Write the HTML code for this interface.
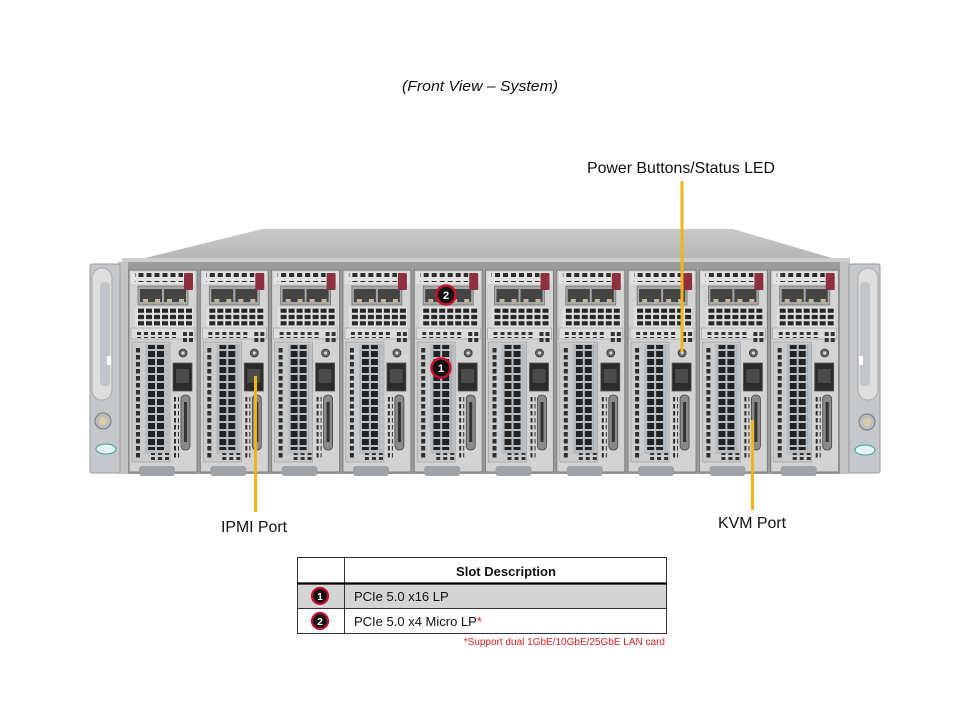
<!DOCTYPE html>
<html><head><meta charset="utf-8">
<style>
html,body{margin:0;padding:0;background:#fff;}
body{width:960px;height:720px;overflow:hidden;}
svg{display:block;font-family:"Liberation Sans",Arial,sans-serif;}
</style></head>
<body>
<svg width="960" height="720" viewBox="0 0 960 720" xmlns="http://www.w3.org/2000/svg">
<defs>
  <pattern id="v1" width="8" height="9" patternUnits="userSpaceOnUse"><rect x="1.5" y="2" width="5" height="5" fill="#2e2e2e"/></pattern>
  <pattern id="v2" width="8" height="6.3" patternUnits="userSpaceOnUse"><rect x="1" y="0.8" width="6" height="4.2" fill="#262626"/></pattern>
  <pattern id="v3" width="7" height="6" patternUnits="userSpaceOnUse"><rect x="1" y="1" width="4" height="4" fill="#333"/></pattern>
  <pattern id="v4" width="6" height="7" patternUnits="userSpaceOnUse"><rect x="1" y="1" width="4" height="4.5" fill="#2f2f2f"/></pattern>
  <pattern id="v5" width="9" height="8" patternUnits="userSpaceOnUse"><rect x="1" y="1" width="7" height="6" fill="#232323"/></pattern>
  <linearGradient id="topg" x1="0" y1="0" x2="0" y2="1">
    <stop offset="0" stop-color="#c9c9c9"/><stop offset="1" stop-color="#b3b3b3"/>
  </linearGradient>
  <g id="mod">
    <rect x="0" y="0" width="68" height="202" fill="#d3d3d3" stroke="#7d7d7d" stroke-width="1"/>
    <rect x="2" y="2" width="64" height="12" fill="#e2e2e2"/>
    <rect x="6" y="3" width="48" height="9" fill="url(#v1)"/>
    <rect x="9" y="16" width="50" height="19" fill="#a8a8a8" stroke="#777" stroke-width="0.8"/>
    <rect x="11" y="19" width="22" height="13" fill="#444"/>
    <rect x="35" y="19" width="22" height="13" fill="#444"/>
    <rect x="14" y="29" width="5" height="3" fill="#c7b98f"/>
    <rect x="26" y="29" width="5" height="3" fill="#c7b98f"/>
    <rect x="38" y="29" width="5" height="3" fill="#c7b98f"/>
    <rect x="50" y="29" width="5" height="3" fill="#c7b98f"/>
    <rect x="55" y="3" width="9" height="17" rx="1" fill="#8e3040"/>
    <rect x="6" y="37" width="58" height="21" fill="#e0e0e0"/>
    <rect x="8" y="38" width="56" height="19" fill="url(#v2)"/>
    <rect x="2" y="58" width="64" height="11" fill="#dcdcdc" stroke="#9a9a9a" stroke-width="0.6"/>
    <rect x="8" y="62" width="40" height="6" fill="url(#v3)"/>
    <rect x="54" y="62" width="4" height="4" fill="#333"/><rect x="60" y="62" width="4" height="4" fill="#333"/>
    <rect x="54" y="68" width="4" height="4" fill="#333"/><rect x="60" y="68" width="4" height="4" fill="#333"/>
    <rect x="3" y="72" width="38" height="120" fill="#c9cbcd" stroke="#999" stroke-width="0.6"/>
    <rect x="6" y="76" width="6" height="112" fill="url(#v4)"/>
    <rect x="16" y="74" width="24" height="110" fill="#b8bdc2"/>
    <rect x="19" y="75" width="18" height="105" fill="url(#v5)"/>
    <circle cx="54" cy="83" r="4" fill="#6a6a6a" stroke="#333" stroke-width="0.8"/>
    <circle cx="54" cy="83" r="1.5" fill="#ddd"/>
    <rect x="44" y="93" width="19" height="28" fill="#2b2b2b" stroke="#555" stroke-width="0.8"/>
    <rect x="47" y="99" width="13" height="14" fill="#4a4a4a"/>
    <rect x="45" y="125" width="5" height="65" fill="url(#v4)"/>
    <rect x="52" y="125" width="9" height="55" rx="4" fill="#8a8a8a" stroke="#444" stroke-width="0.8"/>
    <rect x="55" y="132" width="3" height="40" fill="#333"/>
    <rect x="20" y="183" width="22" height="7" fill="url(#v3)"/>
    <rect x="10" y="196" width="36" height="10" rx="3" fill="#9ea3a8"/>
  </g>
</defs>

<!-- title -->
<text x="402" y="91" font-size="15" font-style="italic" fill="#111" textLength="156" lengthAdjust="spacingAndGlyphs">(Front View – System)</text>

<!-- chassis top -->
<polygon points="125,263 262,229 733,229 849,263" fill="url(#topg)"/>
<rect x="122" y="258" width="728" height="7" fill="#cfcfcf"/>
<!-- chassis face -->
<rect x="118" y="262" width="732" height="212" fill="#9c9c9c"/>
<rect x="118" y="262" width="10" height="212" fill="#c3c3c3"/>
<rect x="840" y="262" width="10" height="212" fill="#c3c3c3"/>

<!-- modules -->
<use href="#mod" x="129" y="270"/>
<use href="#mod" x="200.3" y="270"/>
<use href="#mod" x="271.6" y="270"/>
<use href="#mod" x="342.9" y="270"/>
<use href="#mod" x="414.2" y="270"/>
<use href="#mod" x="485.5" y="270"/>
<use href="#mod" x="556.8" y="270"/>
<use href="#mod" x="628.1" y="270"/>
<use href="#mod" x="699.4" y="270"/>
<use href="#mod" x="770.7" y="270"/>

<!-- left ear -->
<rect x="90" y="264" width="30" height="209" rx="2" fill="#c4c8cc" stroke="#9a9a9a"/>
<rect x="92" y="268" width="20" height="132" rx="10" fill="#dedede" stroke="#aaa"/>
<rect x="100" y="282" width="10" height="104" rx="4" fill="#c2c6ca"/>
<rect x="107" y="356" width="4" height="9" fill="#fff"/>
<circle cx="103" cy="421" r="8" fill="#bdbdbd" stroke="#777"/>
<circle cx="103" cy="421" r="4" fill="#d8cfa8"/>
<ellipse cx="106" cy="449" rx="10" ry="5" fill="#e8f2f2" stroke="#2aa3a0"/>
<!-- right ear -->
<rect x="849" y="264" width="31" height="209" rx="2" fill="#c4c8cc" stroke="#9a9a9a"/>
<rect x="858" y="268" width="20" height="132" rx="10" fill="#dedede" stroke="#aaa"/>
<rect x="860" y="282" width="10" height="104" rx="4" fill="#c2c6ca"/>
<rect x="859" y="356" width="4" height="9" fill="#fff"/>
<circle cx="867" cy="422" r="8" fill="#bdbdbd" stroke="#777"/>
<circle cx="867" cy="422" r="4" fill="#d8cfa8"/>
<ellipse cx="865" cy="450" rx="10" ry="5" fill="#e8f2f2" stroke="#2aa3a0"/>

<!-- badges on image -->
<circle cx="446" cy="295" r="9.5" fill="#111" stroke="#c8102e" stroke-width="2.5"/>
<text x="446" y="299" font-size="11" font-weight="bold" fill="#fff" text-anchor="middle">2</text>
<circle cx="441" cy="368" r="9.5" fill="#111" stroke="#c8102e" stroke-width="2.5"/>
<text x="441" y="372" font-size="11" font-weight="bold" fill="#fff" text-anchor="middle">1</text>

<!-- callout lines -->
<line x1="682" y1="181" x2="682" y2="352" stroke="#f2b519" stroke-width="3"/>
<line x1="255.5" y1="376" x2="255.5" y2="512" stroke="#f2b519" stroke-width="3"/>
<line x1="752.5" y1="420" x2="752.5" y2="510" stroke="#f2b519" stroke-width="3"/>

<!-- labels -->
<text x="587" y="173" font-size="16" fill="#111" textLength="188" lengthAdjust="spacingAndGlyphs">Power Buttons/Status LED</text>
<text x="221" y="532" font-size="16" fill="#111" textLength="66" lengthAdjust="spacingAndGlyphs">IPMI Port</text>
<text x="718" y="528" font-size="16" fill="#111" textLength="68" lengthAdjust="spacingAndGlyphs">KVM Port</text>

<!-- table -->
<rect x="297.5" y="557.5" width="369" height="76" fill="#fff" stroke="#333" stroke-width="1"/>
<rect x="298" y="584" width="368" height="24.5" fill="#d4d4d4"/>
<line x1="344.5" y1="557" x2="344.5" y2="634" stroke="#333" stroke-width="1"/>
<line x1="297" y1="583.5" x2="667" y2="583.5" stroke="#000" stroke-width="2.2"/>
<line x1="297" y1="608.5" x2="667" y2="608.5" stroke="#333" stroke-width="1"/>
<text x="506" y="576" font-size="13" font-weight="bold" fill="#111" text-anchor="middle" textLength="100" lengthAdjust="spacingAndGlyphs">Slot Description</text>
<circle cx="320" cy="596" r="8" fill="#111" stroke="#c8102e" stroke-width="2.2"/>
<text x="320" y="600" font-size="10" font-weight="bold" fill="#fff" text-anchor="middle">1</text>
<circle cx="320" cy="621" r="8" fill="#111" stroke="#c8102e" stroke-width="2.2"/>
<text x="320" y="625" font-size="10" font-weight="bold" fill="#fff" text-anchor="middle">2</text>
<text x="354" y="601" font-size="13" fill="#111">PCIe 5.0 x16 LP</text>
<text x="354" y="626" font-size="13" fill="#111">PCIe 5.0 x4 Micro LP<tspan fill="#e0201f">*</tspan></text>
<text x="665" y="645" font-size="10" fill="#e0201f" text-anchor="end">*Support dual 1GbE/10GbE/25GbE LAN card</text>
</svg>
</body></html>
